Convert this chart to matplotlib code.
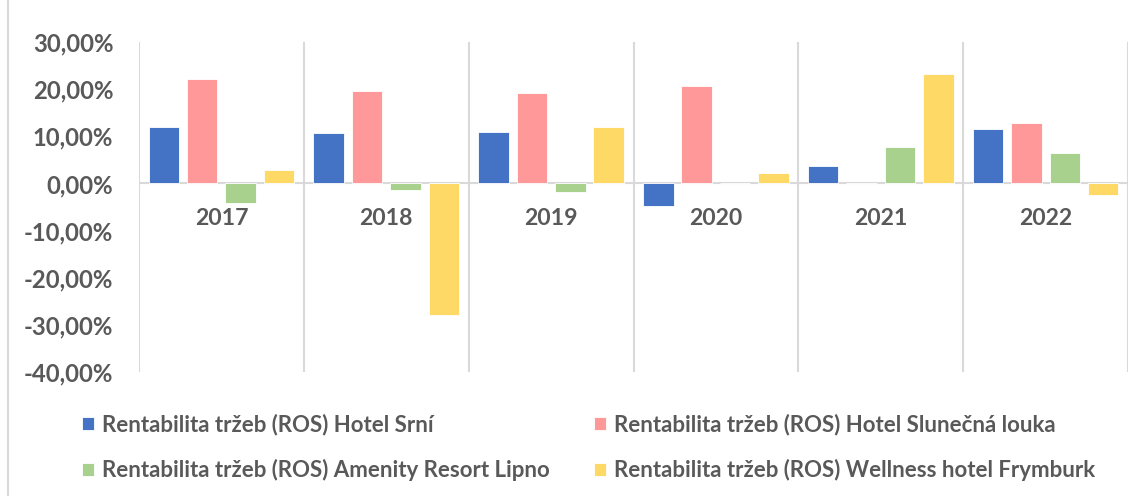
import matplotlib
matplotlib.use("Agg")
import matplotlib.pyplot as plt
from matplotlib.lines import Line2D
from matplotlib.ticker import FuncFormatter
import numpy as np

plt.rcParams['font.family'] = ['Lato', 'DejaVu Sans']

years = ["2017", "2018", "2019", "2020", "2021", "2022"]
series_names = [
    "Rentabilita tržeb (ROS) Hotel Srní",
    "Rentabilita tržeb (ROS) Hotel Slunečná louka",
    "Rentabilita tržeb (ROS) Amenity Resort Lipno",
    "Rentabilita tržeb (ROS) Wellness hotel Frymburk",
]
hotel_srni = [11.9, 10.7, 11.0, -4.7, 3.8, 11.6]
hotel_slunecna = [22.1, 19.6, 19.2, 20.7, 0.0, 12.8]
amenity_lipno = [-4.1, -1.3, -1.9, 0.0, 7.7, 6.4]
wellness_frymburk = [2.8, -27.9, 12.0, 2.2, 23.3, -2.5]
series_values = [hotel_srni, hotel_slunecna, amenity_lipno, wellness_frymburk]
colors = ["#4472C4", "#FF9999", "#A9D18E", "#FFD966"]

text_color = "#595959"
grid_color = "#D9D9D9"

fig = plt.figure(figsize=(11.43, 4.96), dpi=100)
ax = fig.add_axes([0.1216, 0.2506, 0.8653, 0.6641])

x = np.arange(len(years))
width = 0.185
step = 0.233
handles = []
for i, (vals, col) in enumerate(zip(series_values, colors)):
    b = ax.bar(x + (i - 1.5) * step, vals, width, color=col,
               edgecolor="white", linewidth=0.6, zorder=3)
    handles.append(b)

ax.set_xlim(-0.5, len(years) - 0.5)
ax.set_ylim(-40, 30)
ax.set_yticks(np.arange(-40, 31, 10))
ax.yaxis.set_major_formatter(FuncFormatter(lambda v, p: f"{v:.2f}%".replace(".", ",")))
ax.tick_params(axis="y", length=0, pad=18.5, labelsize=17.2, labelcolor=text_color)
for lbl in ax.get_yticklabels():
    lbl.set_fontweight("bold")
ax.set_xticks([])
for s in ax.spines.values():
    s.set_visible(False)

for b in np.arange(-0.5, len(years), 1.0):
    ax.axvline(b, color=grid_color, linewidth=1.5, zorder=1)
ax.axhline(0, color=grid_color, linewidth=1.5, zorder=2)

for xi, yr in zip(x, years):
    ax.annotate(yr, xy=(xi, 0), xytext=(0, -25), textcoords="offset points",
                ha="center", va="center", fontsize=16.6, fontweight="bold",
                color=text_color)

order = [0, 2, 1, 3]
leg = fig.legend([handles[k] for k in order], [series_names[k] for k in order],
                 ncol=2, loc="upper left", bbox_to_anchor=(0.054, 0.206),
                 frameon=False, handlelength=0.55, handleheight=0.55,
                 handletextpad=0.35, columnspacing=2.0, labelspacing=1.06,
                 prop={"size": 16, "weight": "bold"})
for t in leg.get_texts():
    t.set_color(text_color)

fig.add_artist(Line2D([8 / 1143, 8 / 1143], [0, 1], transform=fig.transFigure,
                      color=grid_color, linewidth=1.5))

fig.savefig("out.png", dpi=100)
